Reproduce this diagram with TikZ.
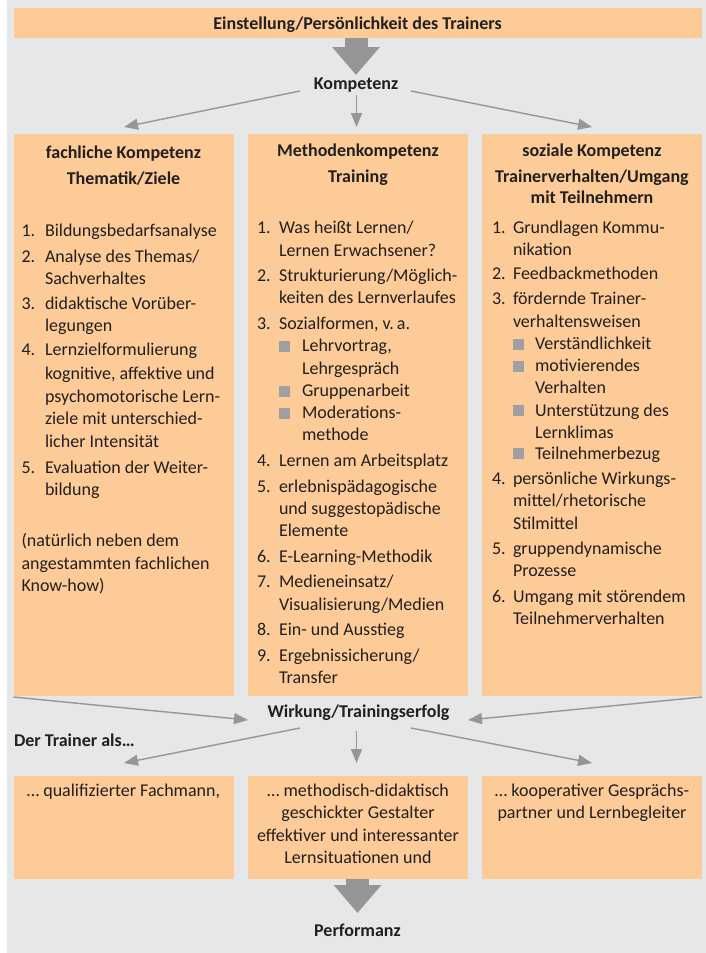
\documentclass[tikz,border=0pt]{standalone}
\usepackage{fontspec}
\setmainfont{Carlito}
\usetikzlibrary{arrows.meta}
\definecolor{bgc}{RGB}{230,231,232}
\definecolor{boxc}{RGB}{253,203,152}
\definecolor{arrc}{RGB}{150,150,153}
\definecolor{txtc}{RGB}{35,31,32}
\definecolor{bulc}{RGB}{160,160,162}
\newcounter{tn}
\newcommand\mytl[3]{\stepcounter{tn}\node[txtn,anchor=base west] (t\arabic{tn}) at (#1,#2) {#3};}
\newcommand\mytc[3]{\stepcounter{tn}\node[txtn,anchor=base] (t\arabic{tn}) at (#1,#2) {#3};}
\newcommand\mybul[2]{\stepcounter{tn}\node[bulsq] (t\arabic{tn}) at (#1,#2-5.5) {};}
\begin{document}
\begin{tikzpicture}[x=1pt,y=-1pt,
  txtn/.style={inner sep=0pt,outer sep=0pt,text=txtc,font=\fontsize{18}{22}\selectfont},
  hd/.style={txtn,font=\fontsize{18}{22}\selectfont\bfseries},
  boxs/.style={fill=boxc,draw=none,inner sep=0pt,outer sep=0pt,anchor=north west},
  bulsq/.style={fill=bulc,draw=none,inner sep=0pt,minimum size=11pt},
  thin/.style={draw=arrc,line width=1.4pt,-{Triangle[length=14pt,width=11pt]}},
  big/.style={draw=arrc,line width=23pt,-{Triangle[length=28pt,width=46pt]}}]
\useasboundingbox (0,0) rectangle (706,953);
\fill[bgc] (7,0) rectangle (706,953);
% boxes
\node[boxs,minimum width=688.5pt,minimum height=30.5pt] (top) at (13.5,7.5) {};
\node[boxs,minimum width=220pt,minimum height=561.5pt] (lbox) at (13.5,134) {};
\node[boxs,minimum width=220pt,minimum height=561.5pt] (mbox) at (248,134) {};
\node[boxs,minimum width=220pt,minimum height=561.5pt] (rbox) at (482,134) {};
\node[boxs,minimum width=220pt,minimum height=102.5pt] (lbot) at (13.5,776) {};
\node[boxs,minimum width=220pt,minimum height=102.5pt] (mbot) at (248,776) {};
\node[boxs,minimum width=220pt,minimum height=102.5pt] (rbot) at (482,776) {};
% central labels
\node[hd,anchor=base] (toptxt) at (357.5,29) {Einstellung/Persönlichkeit des Trainers};
\node[hd,anchor=base] (komp) at (356,89) {Kompetenz};
\node[hd,anchor=base] (wirk) at (358.5,717) {Wirkung/Trainingserfolg};
\node[hd,anchor=base west] (als) at (14,746) {Der Trainer als…};
\node[hd,anchor=base] (perf) at (357.5,936) {Performanz};
% big arrows
\coordinate (b1e) at (356,75);
\draw[big] (356,38) -- (b1e);
\coordinate (b2s) at (357.5,878.5);
\coordinate (b2e) at (357.5,913);
\draw[big] (b2s) -- (b2e);
% thin arrows
\coordinate (k1s) at (300,91);   \coordinate (k1e) at (124,127);
\coordinate (k2s) at (356.5,95); \coordinate (k2e) at (356.5,127);
\coordinate (k3s) at (411,91);   \coordinate (k3e) at (592,127);
\draw[thin] (k1s) -- (k1e);
\draw[thin] (k2s) -- (k2e);
\draw[thin] (k3s) -- (k3e);
\coordinate (w1s) at (13.5,697);  \coordinate (w1e) at (248,720);
\coordinate (w2s) at (702,697);   \coordinate (w2e) at (468,720);
\draw[thin] (w1s) -- (w1e);
\draw[thin] (w2s) -- (w2e);
\coordinate (o1s) at (300,728);   \coordinate (o1e) at (124,763);
\coordinate (o2s) at (356.5,731); \coordinate (o2e) at (356.5,763);
\coordinate (o3s) at (411,728);   \coordinate (o3e) at (592,763);
\draw[thin] (o1s) -- (o1e);
\draw[thin] (o2s) -- (o2e);
\draw[thin] (o3s) -- (o3e);
% left column
\node[hd,anchor=base] (lh1) at (123.5,158) {fachliche Kompetenz};
\node[hd,anchor=base] (lh2) at (123.5,184) {Thematik/Ziele};
\mytl{21.5}{236.5}{1.}\mytl{45}{236.5}{Bildungsbedarfsanalyse}
\mytl{21.5}{262}{2.}\mytl{45}{262}{Analyse des Themas/}
\mytl{45}{284.5}{Sachverhaltes}
\mytl{21.5}{309}{3.}\mytl{45}{309}{didaktische Vorüber-}
\mytl{45}{331.5}{legungen}
\mytl{21.5}{355}{4.}\mytl{45}{355}{Lernzielformulierung}
\mytl{45}{379.5}{kognitive, affektive und}
\mytl{45}{402.5}{psychomotorische Lern-}
\mytl{45}{424.5}{ziele mit unterschied-}
\mytl{45}{447}{licher Intensität}
\mytl{21.5}{473}{5.}\mytl{45}{473}{Evaluation der Weiter-}
\mytl{45}{495}{bildung}
\mytl{21.5}{546.5}{(natürlich neben dem}
\mytl{21.5}{569}{angestammten fachlichen}
\mytl{21.5}{591}{Know-how)}
% middle column
\node[hd,anchor=base] (mh1) at (358,156) {Methodenkompetenz};
\node[hd,anchor=base] (mh2) at (358,182) {Training};
\mytl{257}{233.5}{1.}\mytl{279}{233.5}{Was heißt Lernen/}
\mytl{279}{256}{Lernen Erwachsener?}
\mytl{257}{281.5}{2.}\mytl{279}{281.5}{Strukturierung/Möglich-}
\mytl{279}{303.5}{keiten des Lernverlaufes}
\mytl{257}{329.5}{3.}\mytl{279}{329.5}{Sozialformen, v.\,a.}
\mybul{284.5}{351.5}\mytl{302}{351.5}{Lehrvortrag,}
\mytl{302}{374}{Lehrgespräch}
\mybul{284.5}{396.5}\mytl{302}{396.5}{Gruppenarbeit}
\mybul{284.5}{418.5}\mytl{302}{418.5}{Moderations-}
\mytl{302}{440.5}{methode}
\mytl{257}{466.5}{4.}\mytl{279}{466.5}{Lernen am Arbeitsplatz}
\mytl{257}{492}{5.}\mytl{279}{492}{erlebnispädagogische}
\mytl{279}{514.5}{und suggestopädische}
\mytl{279}{536.5}{Elemente}
\mytl{257}{562.5}{6.}\mytl{279}{562.5}{E-Learning-Methodik}
\mytl{257}{587.5}{7.}\mytl{279}{587.5}{Medieneinsatz/}
\mytl{279}{610}{Visualisierung/Medien}
\mytl{257}{635.5}{8.}\mytl{279}{635.5}{Ein- und Ausstieg}
\mytl{257}{661}{9.}\mytl{279}{661}{Ergebnissicherung/}
\mytl{279}{683.5}{Transfer}
% right column
\node[hd,anchor=base] (rh1) at (592,156) {soziale Kompetenz};
\node[hd,anchor=base] (rh2) at (592,182) {Trainerverhalten/Umgang};
\node[hd,anchor=base] (rh3) at (592,203.5) {mit Teilnehmern};
\mytl{492}{233.5}{1.}\mytl{513}{233.5}{Grundlagen Kommu-}
\mytl{513}{255}{nikation}
\mytl{492}{279.5}{2.}\mytl{513}{279.5}{Feedbackmethoden}
\mytl{492}{304.5}{3.}\mytl{513}{304.5}{fördernde Trainer-}
\mytl{513}{327}{verhaltensweisen}
\mybul{518.5}{349.5}\mytl{535}{349.5}{Verständlichkeit}
\mybul{518.5}{371.5}\mytl{535}{371.5}{motivierendes}
\mytl{535}{393.5}{Verhalten}
\mybul{518.5}{416}\mytl{535}{416}{Unterstützung des}
\mytl{535}{438}{Lernklimas}
\mybul{518.5}{459}\mytl{535}{459}{Teilnehmerbezug}
\mytl{492}{484.5}{4.}\mytl{513}{484.5}{persönliche Wirkungs-}
\mytl{513}{506.5}{mittel/rhetorische}
\mytl{513}{529}{Stilmittel}
\mytl{492}{554.5}{5.}\mytl{513}{554.5}{gruppendynamische}
\mytl{513}{576.5}{Prozesse}
\mytl{492}{602}{6.}\mytl{513}{602}{Umgang mit störendem}
\mytl{513}{624}{Teilnehmerverhalten}
% bottom boxes
\mytc{123.5}{796}{… qualifizierter Fachmann,}
\mytc{358}{796}{… methodisch-didaktisch}
\mytc{358}{818.5}{geschickter Gestalter}
\mytc{358}{841}{effektiver und interessanter}
\mytc{358}{863.5}{Lernsituationen und}
\mytc{592}{796}{… kooperativer Gesprächs-}
\mytc{592}{818.5}{partner und Lernbegleiter}
\end{tikzpicture}
\end{document}
